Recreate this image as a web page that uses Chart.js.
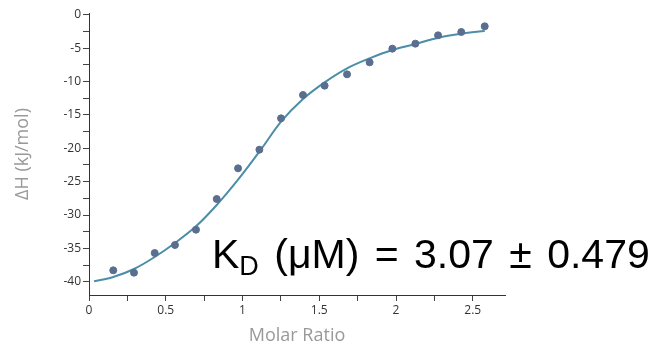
<!DOCTYPE html>
<html>
<head>
<meta charset="utf-8">
<script src="https://cdn.jsdelivr.net/npm/chart.js@4"></script>
<style>
  html, body { margin: 0; padding: 0; background: #fff; }
  #wrap { position: relative; width: 655px; height: 351px; }
  #kd {
    position: absolute; left: 212px; top: 234px;
    font-family: "Liberation Sans", Arial, sans-serif;
    font-size: 41px; line-height: 41px; color: #000; white-space: nowrap;
    word-spacing: 4px;
  }
  #kd sub { font-size: 27px; vertical-align: -7px; line-height: 0; }
</style>
</head>
<body>
<div id="wrap">
  <canvas id="itcChart" width="655" height="351"></canvas>
  <div id="kd">K<sub>D</sub> (μM) = 3.07 ± 0.479</div>
</div>
<script>
// measured points
const molarRatio = [0.158, 0.293, 0.428, 0.56, 0.697, 0.832, 0.971, 1.11, 1.251, 1.394, 1.535, 1.681, 1.828, 1.976, 2.126, 2.274, 2.425, 2.578];
const deltaH = [-38.3, -38.65, -35.7, -34.5, -32.2, -27.6, -23.0, -20.2, -15.5, -12.0, -10.6, -8.9, -7.1, -5.05, -4.3, -3.05, -2.55, -1.7];

// fitted curve
const fitX = [0.033, 0.158, 0.293, 0.428, 0.56, 0.697, 0.832, 0.971, 1.11, 1.251, 1.394, 1.535, 1.681, 1.828, 1.976, 2.126, 2.274, 2.425, 2.578];
const fitY = [-39.95, -39.3, -38.1, -36.3, -34.2, -31.7, -28.5, -24.7, -20.5, -16.0, -12.6, -10.1, -8.0, -6.5, -5.25, -4.35, -3.4, -2.8, -2.4];

const xTicks = [0, 0.25, 0.5, 0.75, 1, 1.25, 1.5, 1.75, 2, 2.25, 2.5];
const yTicks = [0, -2.5, -5, -7.5, -10, -12.5, -15, -17.5, -20, -22.5, -25, -27.5, -30, -32.5, -35, -37.5, -40];

const tickFont = { family: "'Open Sans', 'Noto Sans', sans-serif", size: 12 };
const titleFont = { family: "'Open Sans', 'Noto Sans', sans-serif", size: 18 };

document.addEventListener('DOMContentLoaded', function(){
    const ctx = document.getElementById('itcChart').getContext('2d');
    new Chart(ctx, {
        type: 'scatter',
        data: {
            datasets: [{
                label: 'Fit',
                type: 'line',
                data: fitX.map((x, i) => ({x: x, y: fitY[i]})),
                borderColor: '#4b8ea7',
                borderWidth: 2,
                pointRadius: 0,
                fill: false,
                cubicInterpolationMode: 'monotone',
                order: 2
            }, {
                label: 'Data',
                data: molarRatio.map((x, i) => ({x: x, y: deltaH[i]})),
                backgroundColor: '#5a6e8f',
                borderColor: '#5a6e8f',
                pointRadius: 3.5,
                order: 1
            }]
        },
        options: {
            responsive: false,
            animation: false,
            layout: { padding: { left: 8, top: 13, right: 150, bottom: 0 } },
            plugins: { legend: { display: false }, tooltip: { enabled: false } },
            scales: {
                x: {
                    type: 'linear',
                    min: 0, max: 2.71,
                    afterBuildTicks: axis => { axis.ticks = xTicks.map(v => ({value: v})); },
                    afterFit: axis => { axis.height = 56; },
                    ticks: {
                        color: '#333', font: tickFont, padding: 2, maxRotation: 0,
                        callback: v => (Math.abs(v * 2 - Math.round(v * 2)) < 1e-9) ? String(v) : ''
                    },
                    grid: { drawOnChartArea: false, drawTicks: true, tickLength: 6, color: '#444' },
                    border: { color: '#333', width: 1 },
                    title: { display: true, text: 'Molar Ratio', color: '#999', font: titleFont, padding: { top: 0 } }
                },
                y: {
                    min: -42, max: 0.3,
                    afterBuildTicks: axis => { axis.ticks = yTicks.map(v => ({value: v})); },
                    afterFit: axis => { axis.width = 81; },
                    ticks: {
                        color: '#333', font: tickFont, padding: 2,
                        callback: v => (v % 5 === 0) ? String(v) : ''
                    },
                    grid: { drawOnChartArea: false, drawTicks: true, tickLength: 6, color: '#444' },
                    border: { color: '#333', width: 1 },
                    title: { display: true, text: 'ΔH (kJ/mol)', color: '#999', font: titleFont, padding: { bottom: 4 } }
                }
            }
        }
    });
});
</script>
</body>
</html>
